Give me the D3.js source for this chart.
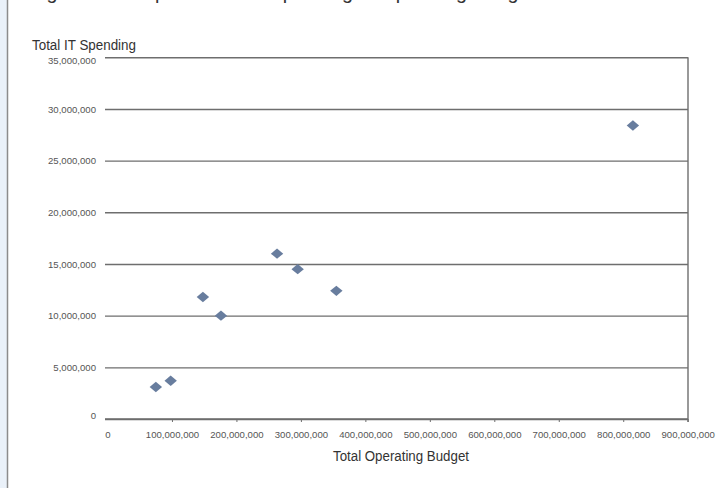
<!DOCTYPE html>
<html>
<head>
<meta charset="utf-8">
<script src="https://cdn.jsdelivr.net/npm/d3@7"></script>
<style>
  html, body { margin: 0; padding: 0; background: #fff; }
  svg { display: block; }
</style>
</head>
<body>
<svg id="chart" width="717" height="488"></svg>
<script>
// ---- data ----
const titleText = "Figure 4: Comparison of IT Spending to Operating Budget";
const xTitle = "Total Operating Budget";
const yTitle = "Total IT Spending";
const operatingBudget = [75000000, 98000000, 148000000, 176000000, 263000000, 295000000, 355000000, 815000000];
const itSpending      = [3100000, 3700000, 11800000, 10000000, 16000000, 14500000, 12400000, 28400000];
const xTicks = [0, 100000000, 200000000, 300000000, 400000000, 500000000, 600000000, 700000000, 800000000, 900000000];
const yTicks = [0, 5000000, 10000000, 15000000, 20000000, 25000000, 30000000, 35000000];

// ---- layout ----
const svg = d3.select("#chart");
const plotLeft = 105, plotRight = 688, plotTop = 57.3, plotBottom = 419;

const x = d3.scaleLinear().domain([0, 900000000]).range([107.5, 687.7]);
const y = d3.scaleLinear().domain([0, 35000000]).range([plotBottom, plotTop]);
const fmt = d3.format(",");

// left page border
svg.append("rect").attr("x", 0).attr("y", 0).attr("width", 7).attr("height", 488).attr("fill", "#eaf1f9");
svg.append("line").attr("x1", 7.5).attr("x2", 7.5).attr("y1", 0).attr("y2", 488)
  .attr("stroke", "#8c8c8c").attr("stroke-width", 1.5);

// cut-off title
svg.append("text").attr("x", 30).attr("y", -1)
  .attr("font-family", "'Liberation Sans Narrow', 'Liberation Sans', Arial, sans-serif")
  .attr("font-size", 20).attr("fill", "#333")
  .attr("textLength", 505).attr("lengthAdjust", "spacingAndGlyphs")
  .text(titleText);

// y axis with gridlines
const yAxis = svg.append("g").attr("transform", `translate(${plotLeft},0)`)
  .call(d3.axisLeft(y).tickValues(yTicks).tickFormat(fmt)
    .tickSize(-(plotRight - plotLeft)).tickPadding(9));
yAxis.select(".domain").remove();
yAxis.selectAll(".tick line").attr("stroke", "#6e6e6e").attr("stroke-width", 1.4);
yAxis.selectAll(".tick text")
  .attr("font-family", "'Liberation Sans', Arial, sans-serif")
  .attr("font-size", 9.6).attr("fill", "#555")
  .attr("dy", d => d === 35000000 ? "0.68em" : (d === 0 ? "-0.1em" : "0.32em"));

// x axis
const xAxis = svg.append("g").attr("transform", `translate(0,${plotBottom})`)
  .call(d3.axisBottom(x).tickValues(xTicks).tickFormat(fmt).tickSize(3).tickPadding(9));
xAxis.select(".domain").remove();
xAxis.selectAll(".tick line").attr("stroke", "#6e6e6e").attr("stroke-width", 1);
xAxis.selectAll(".tick").filter(d => d === 0).select("line").remove();
xAxis.selectAll(".tick text")
  .attr("font-family", "'Liberation Sans', Arial, sans-serif")
  .attr("font-size", 9.6).attr("fill", "#555");
svg.append("line").attr("x1", plotLeft).attr("x2", plotRight).attr("y1", plotBottom).attr("y2", plotBottom)
  .attr("stroke", "#6e6e6e").attr("stroke-width", 1.4);

// right frame line
svg.append("line").attr("x1", plotRight).attr("x2", plotRight).attr("y1", plotTop).attr("y2", plotBottom + 3)
  .attr("stroke", "#6e6e6e").attr("stroke-width", 1.4);

// axis titles
svg.append("text").attr("x", 32).attr("y", 49.5)
  .attr("font-family", "'Liberation Sans Narrow', 'Liberation Sans', Arial, sans-serif")
  .attr("font-size", 14).attr("fill", "#333")
  .attr("textLength", 104).attr("lengthAdjust", "spacingAndGlyphs")
  .text(yTitle);
svg.append("text").attr("x", 333).attr("y", 461)
  .attr("font-family", "'Liberation Sans Narrow', 'Liberation Sans', Arial, sans-serif")
  .attr("font-size", 14).attr("fill", "#333")
  .attr("textLength", 136).attr("lengthAdjust", "spacingAndGlyphs")
  .text(xTitle);

// points
const data = operatingBudget.map((v, i) => ({ x: v, y: itSpending[i] }));
svg.append("g").selectAll("path").data(data).join("path")
  .attr("d", "M0,-5.2L6.2,0L0,5.2L-6.2,0Z")
  .attr("transform", d => `translate(${x(d.x)},${y(d.y)})`)
  .attr("fill", "#687d9e");
</script>
</body>
</html>
